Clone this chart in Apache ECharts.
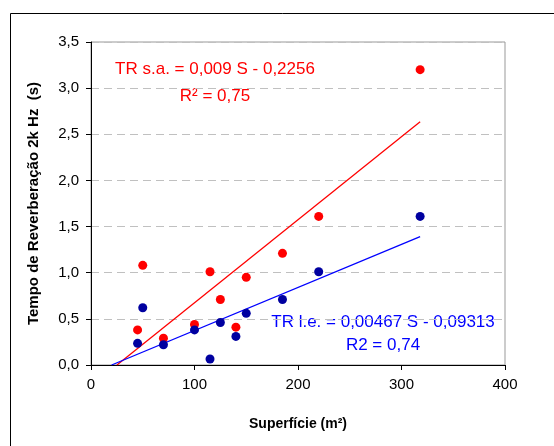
<!DOCTYPE html>
<html>
<head>
<meta charset="utf-8">
<script src="https://cdn.jsdelivr.net/npm/echarts@6/dist/echarts.min.js"></script>
<style>
  html, body { margin: 0; padding: 0; background: #fff; }
  #chart { width: 554px; height: 446px; }
</style>
</head>
<body>
<div id="chart"></div>
<script>
// superficie (m2) de cada sala
var superficie = [45, 50, 70, 100, 115, 125, 140, 150, 185, 220, 318];
// TR sem alunos (vermelho)
var trSA = [0.38, 1.08, 0.29, 0.44, 1.01, 0.71, 0.41, 0.95, 1.21, 1.61, 3.20];
// TR lotacao estimada (azul)
var trLE = [0.235, 0.62, 0.22, 0.38, 0.065, 0.46, 0.31, 0.56, 0.71, 1.01, 1.61];
// coeficientes das retas de tendencia [declive, ordenada]
var fitSA = [0.009, -0.2256];
var fitLE = [0.00467, -0.09313];
var eqSA = ['TR s.a. = 0,009 S - 0,2256', 'R\u00b2 = 0,75'];
var eqLE = ['TR l.e. = 0,00467 S - 0,09313', 'R2 = 0,74'];

function pares(xs, ys) {
  var out = [];
  for (var i = 0; i < xs.length; i++) out.push([xs[i], ys[i]]);
  return out;
}
// reta de tendencia entre y=0 e o maior x
function reta(fit) {
  var x0 = -fit[1] / fit[0];
  var x1 = Math.max.apply(null, superficie);
  return [[x0, 0], [x1, fit[0] * x1 + fit[1]]];
}

var chart = echarts.init(document.getElementById('chart'));
var fonte = 'Liberation Sans, Arial, sans-serif';

var option = {
  animation: false,
  backgroundColor: '#fff',
  grid: { left: 91, top: 42, right: 49, bottom: 81, show: true, borderColor: '#999', borderWidth: 1 },
  xAxis: {
    type: 'value', min: 0, max: 400, interval: 100,
    name: 'Superfície (m²)', nameLocation: 'middle', nameGap: 52,
    nameTextStyle: { fontFamily: fonte, fontWeight: 'bold', fontSize: 14, color: '#000' },
    axisLine: { lineStyle: { color: '#000', width: 1 } },
    axisTick: { show: true, length: 5, lineStyle: { color: '#000' } },
    axisLabel: { fontFamily: fonte, fontSize: 15, color: '#000', margin: 12 },
    splitLine: { show: false }
  },
  yAxis: {
    type: 'value', min: 0, max: 3.5, interval: 0.5,
    name: 'Tempo de Reverberação 2k Hz  (s)', nameLocation: 'middle', nameGap: 50,
    nameTextStyle: { fontFamily: fonte, fontWeight: 'bold', fontSize: 15, color: '#000' },
    axisLine: { show: true, lineStyle: { color: '#000', width: 1 } },
    axisTick: { show: true, length: 5, lineStyle: { color: '#000' } },
    axisLabel: {
      fontFamily: fonte, fontSize: 15, color: '#000', margin: 12,
      formatter: function (v) { return v.toFixed(1).replace('.', ','); }
    },
    splitLine: { show: true, lineStyle: { color: '#c0c0c0', type: [8, 5], width: 1 } }
  },
  series: [
    {
      type: 'line', data: reta(fitSA), showSymbol: false, silent: true,
      lineStyle: { color: '#ff0000', width: 1.3 }, z: 2
    },
    {
      type: 'line', data: reta(fitLE), showSymbol: false, silent: true,
      lineStyle: { color: '#0000ff', width: 1.3 }, z: 2
    },
    {
      type: 'scatter', data: pares(superficie, trSA), symbolSize: 9,
      itemStyle: { color: '#ff0000', opacity: 1 }, z: 3
    },
    {
      type: 'scatter', data: pares(superficie, trLE), symbolSize: 9,
      itemStyle: { color: '#0000a0', opacity: 1 }, z: 3
    }
  ],
  graphic: [
    { type: 'rect', shape: { x: 10.5, y: 13.5, width: 700, height: 600 },
      style: { fill: null, stroke: '#000', lineWidth: 1 }, silent: true },
    { type: 'text', x: 215, y: 69, style: { text: eqSA[0], fill: '#ff0000', font: '17px ' + fonte, textAlign: 'center', textVerticalAlign: 'middle' } },
    { type: 'text', x: 215, y: 96, style: { text: eqSA[1], fill: '#ff0000', font: '17px ' + fonte, textAlign: 'center', textVerticalAlign: 'middle' } },
    { type: 'text', x: 383, y: 322, style: { text: eqLE[0], fill: '#0000ff', font: '17px ' + fonte, textAlign: 'center', textVerticalAlign: 'middle' } },
    { type: 'text', x: 383, y: 345, style: { text: eqLE[1], fill: '#0000ff', font: '17px ' + fonte, textAlign: 'center', textVerticalAlign: 'middle' } }
  ]
};
chart.setOption(option);
</script>
</body>
</html>
